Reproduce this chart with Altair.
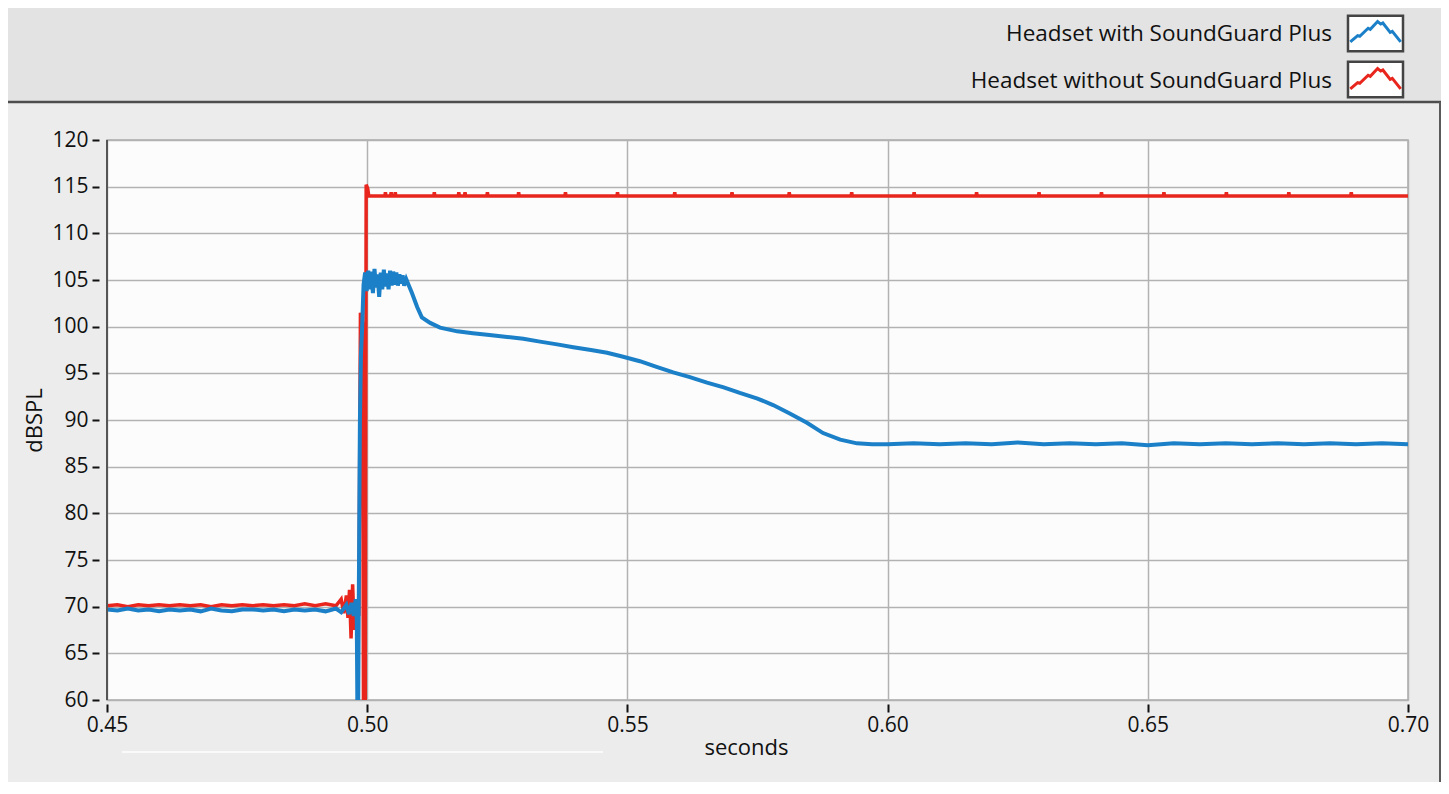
import altair as alt
import pandas as pd

SERIES = ["Headset with SoundGuard Plus", "Headset without SoundGuard Plus"]
SERIES_BOX = ["box: with", "box: without"]
COLORS = ["#1b80c8", "#e8261e"]
X_TICKS = [0.45, 0.50, 0.55, 0.60, 0.65, 0.70]
Y_TICKS = [60, 65, 70, 75, 80, 85, 90, 95, 100, 105, 110, 115, 120]

# Headset with SoundGuard Plus (blue)
t_with = [
    0.450, 0.452, 0.454, 0.456, 0.458, 0.460, 0.462, 0.464, 0.466, 0.468,
    0.470, 0.472, 0.474, 0.476, 0.478, 0.480, 0.482, 0.484, 0.486, 0.488,
    0.490, 0.492, 0.494, 0.495, 0.496, 0.4965, 0.497, 0.4974, 0.4978, 0.4980,
    0.4982, 0.4984, 0.4986, 0.4988, 0.4990, 0.4993, 0.4996, 0.4999, 0.5002, 0.5005,
    0.5008, 0.5011, 0.5014, 0.5017, 0.5020, 0.5023, 0.5026, 0.5029, 0.5032, 0.5035,
    0.5038, 0.5041, 0.5044, 0.5047, 0.5050, 0.5053, 0.5056, 0.5059, 0.5062, 0.5065,
    0.5068, 0.5071, 0.5075, 0.5080, 0.5086, 0.5096, 0.5105, 0.5121, 0.5140, 0.5173,
    0.5203, 0.5235, 0.5269, 0.5300, 0.5332, 0.5365, 0.5396, 0.5430, 0.5461, 0.5490,
    0.5524, 0.5556, 0.5588, 0.5620, 0.5653, 0.5685, 0.5716, 0.5750, 0.5780, 0.5812,
    0.5845, 0.5876, 0.5909, 0.5941, 0.5970, 0.6000, 0.6050, 0.6100, 0.6150, 0.6200,
    0.6250, 0.6300, 0.6350, 0.6400, 0.6450, 0.6500, 0.6550, 0.6600, 0.6650, 0.6700,
    0.6750, 0.6800, 0.6850, 0.6900, 0.6950, 0.7000,
]
db_with = [
    69.7, 69.6, 69.8, 69.6, 69.7, 69.5, 69.7, 69.6, 69.7, 69.5,
    69.8, 69.6, 69.5, 69.7, 69.7, 69.6, 69.7, 69.5, 69.7, 69.6,
    69.7, 69.5, 69.8, 69.4, 70.2, 69.2, 70.4, 69.0, 70.8, 68.5,
    52.0, 72.0, 90.0, 97.0, 99.5, 104.5, 105.8, 103.8, 106.0, 104.0,
    105.9, 103.6, 106.2, 104.2, 105.6, 103.2, 105.8, 104.0, 106.1, 104.3,
    105.7, 104.0, 106.0, 104.4, 105.9, 104.5, 105.8, 104.4, 105.6, 104.6,
    105.5, 104.4, 105.1, 104.4, 103.6, 102.1, 101.0, 100.4, 99.9, 99.5,
    99.3, 99.1, 98.9, 98.7, 98.4, 98.1, 97.8, 97.5, 97.2, 96.8,
    96.3, 95.7, 95.1, 94.6, 94.0, 93.5, 92.9, 92.3, 91.6, 90.7,
    89.7, 88.6, 87.9, 87.5, 87.4, 87.4, 87.5, 87.4, 87.5, 87.4,
    87.6, 87.4, 87.5, 87.4, 87.5, 87.3, 87.5, 87.4, 87.5, 87.4,
    87.5, 87.4, 87.5, 87.4, 87.5, 87.4,
]

# Headset without SoundGuard Plus (red)
t_without = [
    0.450, 0.452, 0.454, 0.456, 0.458, 0.460, 0.462, 0.464, 0.466, 0.468,
    0.470, 0.472, 0.474, 0.476, 0.478, 0.480, 0.482, 0.484, 0.486, 0.488,
    0.490, 0.492, 0.494, 0.495, 0.4955, 0.4960, 0.4963, 0.4966, 0.4969, 0.4972,
    0.4975, 0.4978, 0.4984, 0.4987, 0.4989, 0.4991, 0.4993, 0.4996, 0.4998, 0.5001,
    0.5003, 0.5034, 0.5035, 0.5036, 0.5045, 0.5046, 0.5047, 0.5053, 0.5054, 0.5055,
    0.5128, 0.5129, 0.5130, 0.5175, 0.5176, 0.5177, 0.5187, 0.5188, 0.5189, 0.5230,
    0.5231, 0.5232, 0.5290, 0.5291, 0.5292, 0.5380, 0.5381, 0.5382, 0.5480, 0.5481,
    0.5482, 0.5590, 0.5591, 0.5592, 0.5700, 0.5701, 0.5702, 0.5810, 0.5811, 0.5812,
    0.5930, 0.5931, 0.5932, 0.6050, 0.6051, 0.6052, 0.6170, 0.6171, 0.6172, 0.6290,
    0.6291, 0.6292, 0.6410, 0.6411, 0.6412, 0.6530, 0.6531, 0.6532, 0.6650, 0.6651,
    0.6652, 0.6770, 0.6771, 0.6772, 0.6890, 0.6891, 0.6892, 0.7000,
]
db_without = [
    70.1, 70.2, 70.0, 70.2, 70.1, 70.2, 70.1, 70.2, 70.1, 70.2,
    70.0, 70.2, 70.1, 70.2, 70.1, 70.2, 70.1, 70.2, 70.1, 70.3,
    70.1, 70.3, 70.1, 70.8, 69.3, 71.2, 68.8, 71.8, 66.6, 72.4,
    67.5, 70.0, 69.0, 101.5, 98.5, 100.5, 55.0, 50.0, 115.2, 114.8,
    114.0, 114.0, 114.4, 114.0, 114.0, 114.4, 114.0, 114.0, 114.4, 114.0,
    114.0, 114.4, 114.0, 114.0, 114.4, 114.0, 114.0, 114.4, 114.0, 114.0,
    114.4, 114.0, 114.0, 114.4, 114.0, 114.0, 114.4, 114.0, 114.0, 114.4,
    114.0, 114.0, 114.4, 114.0, 114.0, 114.4, 114.0, 114.0, 114.4, 114.0,
    114.0, 114.4, 114.0, 114.0, 114.4, 114.0, 114.0, 114.4, 114.0, 114.0,
    114.4, 114.0, 114.0, 114.4, 114.0, 114.0, 114.4, 114.0, 114.0, 114.4,
    114.0, 114.0, 114.4, 114.0, 114.0, 114.4, 114.0, 114.0,
]

df_with = pd.DataFrame({"t": t_with, "db": db_with, "series": SERIES[0], "series_box": SERIES_BOX[0]})
df_without = pd.DataFrame({"t": t_without, "db": db_without, "series": SERIES[1], "series_box": SERIES_BOX[1]})
df_all = pd.concat([df_with, df_without], ignore_index=True)

FONT = "Open Sans"
W, H = 1301, 560
PAD_L, PAD_T, PAD_R, PAD_B = 99, 132, 33, 82

x_enc = alt.X(
    "t:Q",
    scale=alt.Scale(domain=[0.45, 0.70], nice=False, zero=False),
    axis=alt.Axis(
        values=X_TICKS, format=".2f", title="seconds", grid=True,
        gridColor="#b2b2b2", gridWidth=1.5, domain=False, offset=4,
        tickSize=8, tickWidth=2, tickColor="#111111", labelFontSize=21,
        labelColor="#111111", labelFont=FONT, labelPadding=2, labelFlush=False,
        titleFont=FONT, titleFontSize=22, titleFontWeight="normal",
        titleColor="#111111", titlePadding=2, titleX=639,
    ),
)
y_enc = alt.Y(
    "db:Q",
    scale=alt.Scale(domain=[60, 120], nice=False, zero=False),
    axis=alt.Axis(
        values=Y_TICKS, title="dBSPL", grid=True, gridColor="#b2b2b2",
        gridWidth=1.5, domain=False, offset=8, tickSize=7, tickWidth=2,
        tickColor="#111111", labelFontSize=21, labelColor="#111111",
        labelFont=FONT, labelPadding=4, labelFlush=False, titleFont=FONT,
        titleFontSize=22, titleFontWeight="normal", titleColor="#111111",
        titlePadding=5,
    ),
)

# the leading moves give the zigzag the same bounds as the box
zigzag = ("M-1.31,-0.84 M1.31,0.84 "
          "M-1.2,0.4 L-0.85,0.1 L-0.75,0.13 L-0.35,-0.25 L-0.25,-0.2 L0.1,-0.57 "
          "L0.25,-0.45 L0.35,-0.5 L0.7,-0.05 L0.8,-0.1 L1.2,0.4")
box = "M-1.31,-0.84 H1.31 V0.84 H-1.31 Z"
SYM = 1764
LBL_OFF = {"expr": "-66"}
ROW_PAD = {"expr": "-4"}

color_enc = alt.Color(
    "series:N",
    scale=alt.Scale(domain=SERIES, range=COLORS),
    legend=alt.Legend(
        title=None, orient="none", legendX=1246, legendY=-129,
        symbolType=zigzag, symbolSize=SYM, symbolStrokeWidth=3,
        symbolFillColor="transparent", labelAlign="right", labelOffset=LBL_OFF,
        labelFontSize=22.5, labelFont=FONT, labelColor="#111111",
        labelLimit=600, rowPadding=ROW_PAD, padding=0, zindex=3,
    ),
)

deco = pd.DataFrame({"k": [0]})
top_panel = alt.Chart(deco).mark_rect(color="#e3e3e3").encode(
    x=alt.value(-PAD_L), x2=alt.value(W + PAD_R), y=alt.value(-PAD_T), y2=alt.value(-39)
)
sep = alt.Chart(deco).mark_rule(color="#4d4d4d", strokeWidth=2.5).encode(
    x=alt.value(-PAD_L), x2=alt.value(W + PAD_R), y=alt.value(-38)
)
right_border = alt.Chart(deco).mark_rule(color="#5a5a5a", strokeWidth=2).encode(
    x=alt.value(W + 32), y=alt.value(-38), y2=alt.value(H + 90)
)
scroll_line = alt.Chart(deco).mark_rule(color="#fafafa", strokeWidth=2).encode(
    x=alt.value(15), x2=alt.value(496), y=alt.value(612)
)
left_border = alt.Chart(deco).mark_rule(color="#555555", strokeWidth=2).encode(
    x=alt.value(0), y=alt.value(0), y2=alt.value(H)
)

red = alt.Chart(df_without).mark_line(strokeWidth=3.5, clip=True).encode(
    x=x_enc, y=y_enc, color=color_enc
)
blue = alt.Chart(df_with).mark_line(strokeWidth=4, clip=True).encode(
    x=x_enc, y=y_enc, color=color_enc
)
box_layer = alt.Chart(df_all).mark_point(
    filled=False, fill="#ffffff", stroke="#444444", strokeWidth=2.5, opacity=0
).encode(
    x=x_enc, y=y_enc,
    shape=alt.Shape(
        "series_box:N",
        scale=alt.Scale(domain=SERIES_BOX, range=[box, box]),
        legend=alt.Legend(
            title=None, orient="none", legendX=1246, legendY=-129,
            symbolSize=SYM, symbolStrokeWidth=2.5, symbolOpacity=1,
            labelExpr="''", labelFontSize=22.5, rowPadding=ROW_PAD,
            padding=0, zindex=2,
        ),
    ),
)

chart = alt.layer(
    top_panel, sep, right_border, scroll_line, red, blue, box_layer, left_border
).properties(
    width=W, height=H,
    padding={"left": PAD_L, "top": PAD_T, "right": PAD_R, "bottom": PAD_B},
    autosize=alt.AutoSizeParams(type="none"),
    background="#ececec",
).configure_view(
    fill="#fcfcfc", stroke="#a9a9a9", strokeWidth=1.5
)

chart.save("out.html", embed_options={"renderer": "svg", "actions": False})
